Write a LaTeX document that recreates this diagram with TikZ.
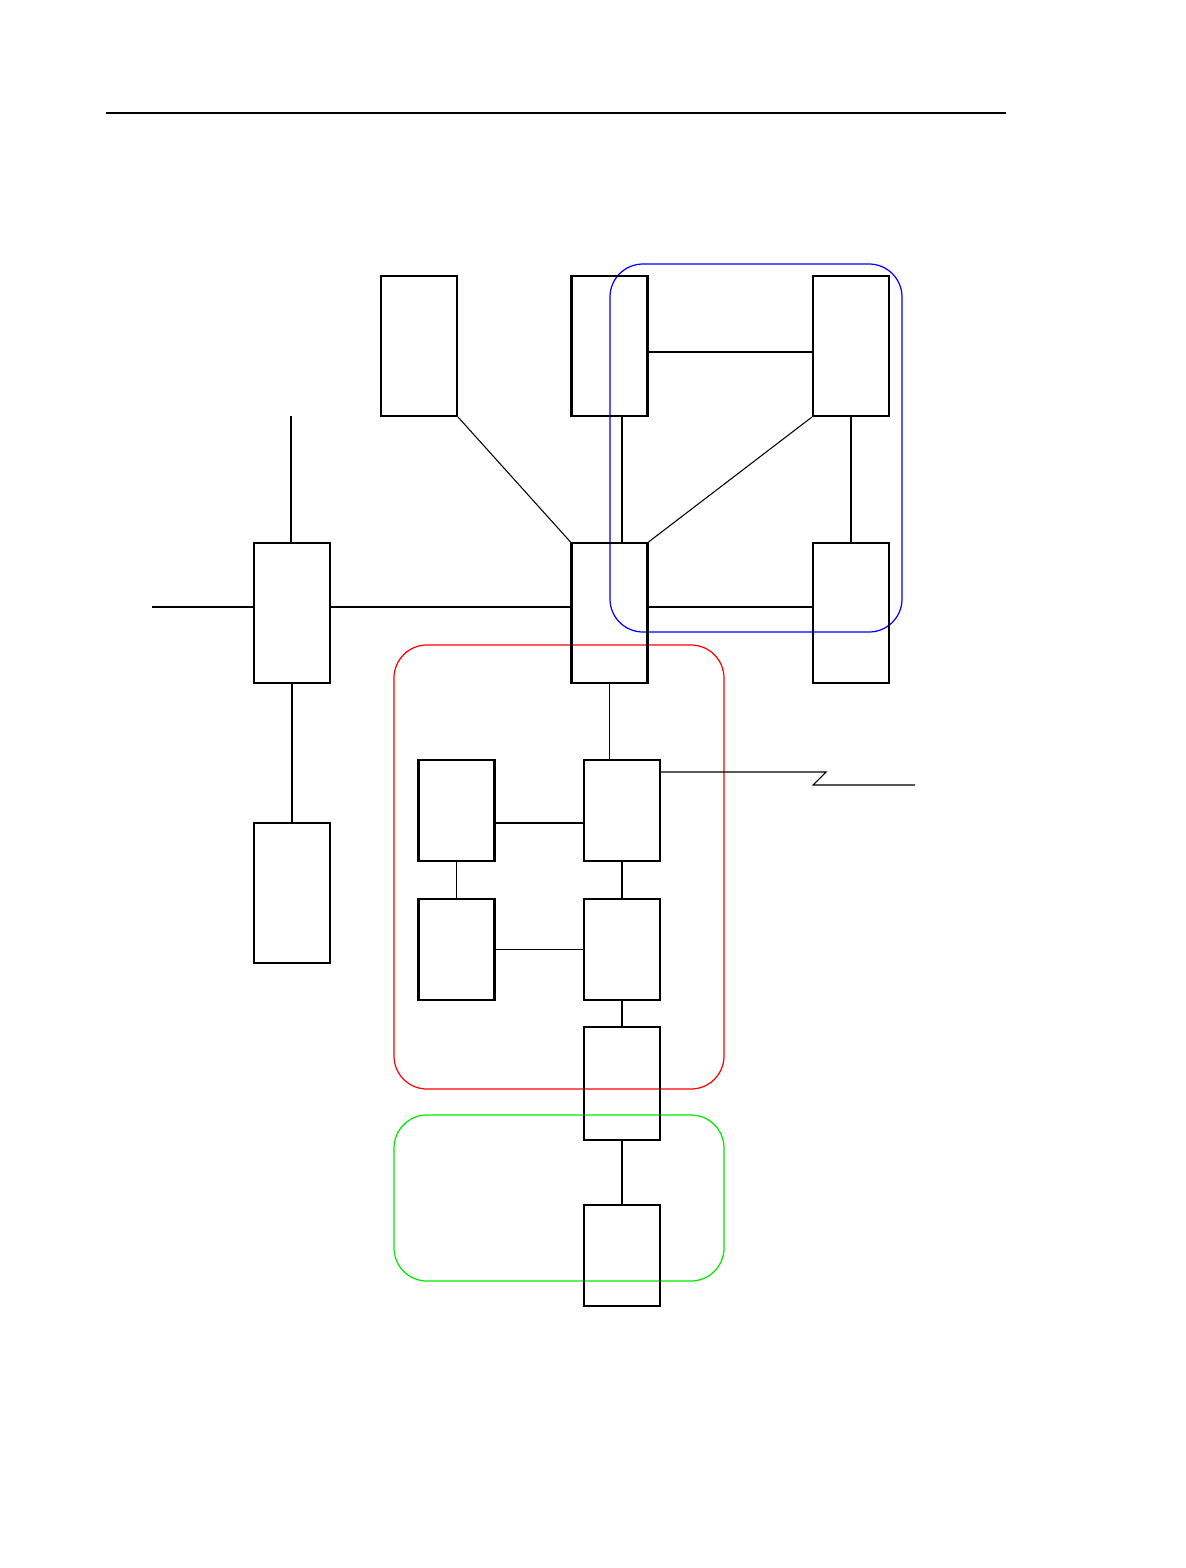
\documentclass[tikz,border=0pt]{standalone}
\usepackage{tikz}
\usepackage{xcolor}
\usetikzlibrary{shapes,arrows,positioning,calc}

\definecolor{grpgreen}{RGB}{0,235,0}

\tikzset{
  unit/.style={rectangle,draw,line width=1.2pt,minimum width=1.52cm,minimum height=2.8cm,inner sep=0pt},
  shortunit/.style={unit,minimum height=2.02cm},
  midunit/.style={unit,minimum height=2.26cm},
  link/.style={line width=0.6pt},
  group/.style={line width=0.7pt,rounded corners=0.66cm}
}

\begin{document}
\begin{tikzpicture}[x=0.02cm,y=-0.02cm]
    \useasboundingbox (0,0) rectangle (1186,1568);

    % header rule
    \coordinate (hl) at (106,113);
    \coordinate (hr) at (1006,113);
    \draw[link] (hl) -- (hr);

    % groups
    \draw[group,blue] (610,264) rectangle (902,632);
    \draw[group,red] (394,645) rectangle (724,1089);
    \draw[group,grpgreen] (394,1115) rectangle (724,1281);

    % upper row
    \node[unit] (a) at (419,346) {};
    \node[unit] (b) at (609.5,346) {};
    \node[unit] (c) at (851,346) {};

    % middle row
    \node[unit] (l) at (292,613) {};
    \node[unit] (m) at (609.5,613) {};
    \node[unit] (r) at (851,613) {};
    \node[unit] (lb) at (292,893) {};

    % lower block
    \node[shortunit] (p1) at (456.5,810.5) {};
    \node[shortunit] (q1) at (622,810.5) {};
    \node[shortunit] (p2) at (456.5,949.5) {};
    \node[shortunit] (q2) at (622,949.5) {};
    \node[midunit] (s) at (622,1083.5) {};
    \node[shortunit] (t) at (622,1255.5) {};

    % free ends
    \coordinate (lin) at (152,607);
    \coordinate (lup) at (291,416);
    \coordinate (z1) at (826,772);
    \coordinate (z2) at (813,785);
    \coordinate (zout) at (915,785);

    % links
    \draw[link] (a.south east) -- (m.north west);
    \draw[link] ([xshift=0.25cm]b.south) -- ([xshift=0.25cm]m.north);
    \draw[link] (c.south west) -- (m.north east);
    \draw[link] ([yshift=-0.12cm]b.east) -- ([yshift=-0.12cm]c.west);
    \draw[link] (c.south) -- (r.north);
    \draw[link] (m.east |- lin) -- (r.west |- lin);
    \draw[link] (l.east |- lin) -- (m.west |- lin);
    \draw[link] (lin) -- (lin -| l.west);
    \draw[link] (lup) -- (lup |- l.north);
    \draw[link] (l.south) -- (lb.north);
    \draw[link] (m.south) -- (m.south |- q1.north);
    \draw[link] (q1.east |- z1) -- (z1) -- (z2) -- (zout);
    \draw[link] ([yshift=-0.25cm]p1.east) -- ([yshift=-0.25cm]q1.west);
    \draw[link] (p1.south) -- (p2.north);
    \draw[link] (q1.south) -- (q2.north);
    \draw[link] (p2.east) -- (q2.west);
    \draw[link] (q2.south) -- (s.north);
    \draw[link] (s.south) -- (t.north);
\end{tikzpicture}
\end{document}
